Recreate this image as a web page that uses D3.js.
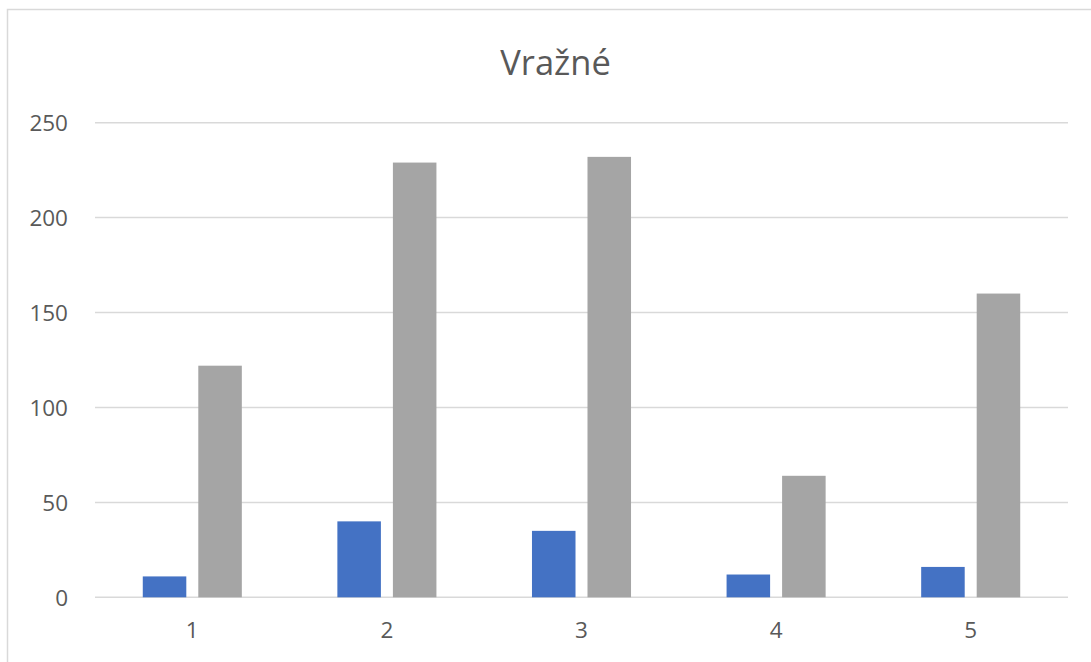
<!DOCTYPE html>
<html>
<head>
<meta charset="utf-8">
<script src="https://cdn.jsdelivr.net/npm/d3@7"></script>
<style>
  html, body { margin: 0; padding: 0; background: #ffffff; }
  svg { display: block; }
</style>
</head>
<body>
<svg id="chart" width="1091" height="662"></svg>
<script>
const title = "Vražné";
const categories = ["1", "2", "3", "4", "5"];
const seriesNames = ["Series1", "Series2"];
const series1 = [11, 40, 35, 12, 16];
const series2 = [122, 229, 232, 64, 160];
const yTicks = [0, 50, 100, 150, 200, 250];
const colors = ["#4472C4", "#A5A5A5"];

const svg = d3.select("#chart");
const plot = { left: 95, right: 1068, top: 122.7, bottom: 597.3 };

// outer chart border
svg.append("rect")
  .attr("x", 7.5).attr("y", 9.5)
  .attr("width", 1200).attr("height", 800)
  .attr("fill", "#ffffff")
  .attr("stroke", "#d9d9d9").attr("stroke-width", 1.5);

const y = d3.scaleLinear().domain([0, 250]).range([plot.bottom, plot.top]);
const x0 = d3.scaleBand().domain(categories).range([plot.left, plot.right]).padding(0);
const groupW = x0.bandwidth() * 0.509;
const x1 = d3.scaleBand().domain(seriesNames).range([-groupW / 2, groupW / 2])
  .paddingInner(0.216).paddingOuter(0);

// gridlines
svg.append("g").selectAll("line").data(yTicks).join("line")
  .attr("x1", plot.left).attr("x2", plot.right)
  .attr("y1", d => y(d)).attr("y2", d => y(d))
  .attr("stroke", "#d9d9d9").attr("stroke-width", 1.5);

// y tick labels
svg.append("g").selectAll("text").data(yTicks).join("text")
  .attr("x", 68).attr("y", d => y(d) + 2.5)
  .attr("text-anchor", "end")
  .attr("dominant-baseline", "middle")
  .attr("font-family", "'Open Sans', sans-serif")
  .attr("font-size", 22.5)
  .attr("fill", "#595959")
  .text(d => d);

// x tick labels
svg.append("g").selectAll("text").data(categories).join("text")
  .attr("x", d => x0(d) + x0.bandwidth() / 2)
  .attr("y", 632)
  .attr("text-anchor", "middle")
  .attr("dominant-baseline", "middle")
  .attr("font-family", "'Open Sans', sans-serif")
  .attr("font-size", 22.5)
  .attr("fill", "#595959")
  .text(d => d);

// bars
const data = categories.map((c, i) => ({ cat: c, vals: [series1[i], series2[i]] }));
const groups = svg.append("g").selectAll("g").data(data).join("g")
  .attr("transform", d => `translate(${x0(d.cat) + x0.bandwidth() / 2},0)`);
groups.selectAll("rect").data(d => d.vals.map((v, j) => ({ s: seriesNames[j], v, j })))
  .join("rect")
  .attr("x", d => x1(d.s))
  .attr("width", x1.bandwidth())
  .attr("y", d => y(d.v))
  .attr("height", d => y(0) - y(d.v))
  .attr("fill", d => colors[d.j]);

// title
svg.append("text")
  .attr("x", 555.5).attr("y", 74.5)
  .attr("text-anchor", "middle")
  .attr("font-family", "'Open Sans', sans-serif")
  .attr("font-size", 34.5)
  .attr("fill", "#595959")
  .text(title);
</script>
</body>
</html>
